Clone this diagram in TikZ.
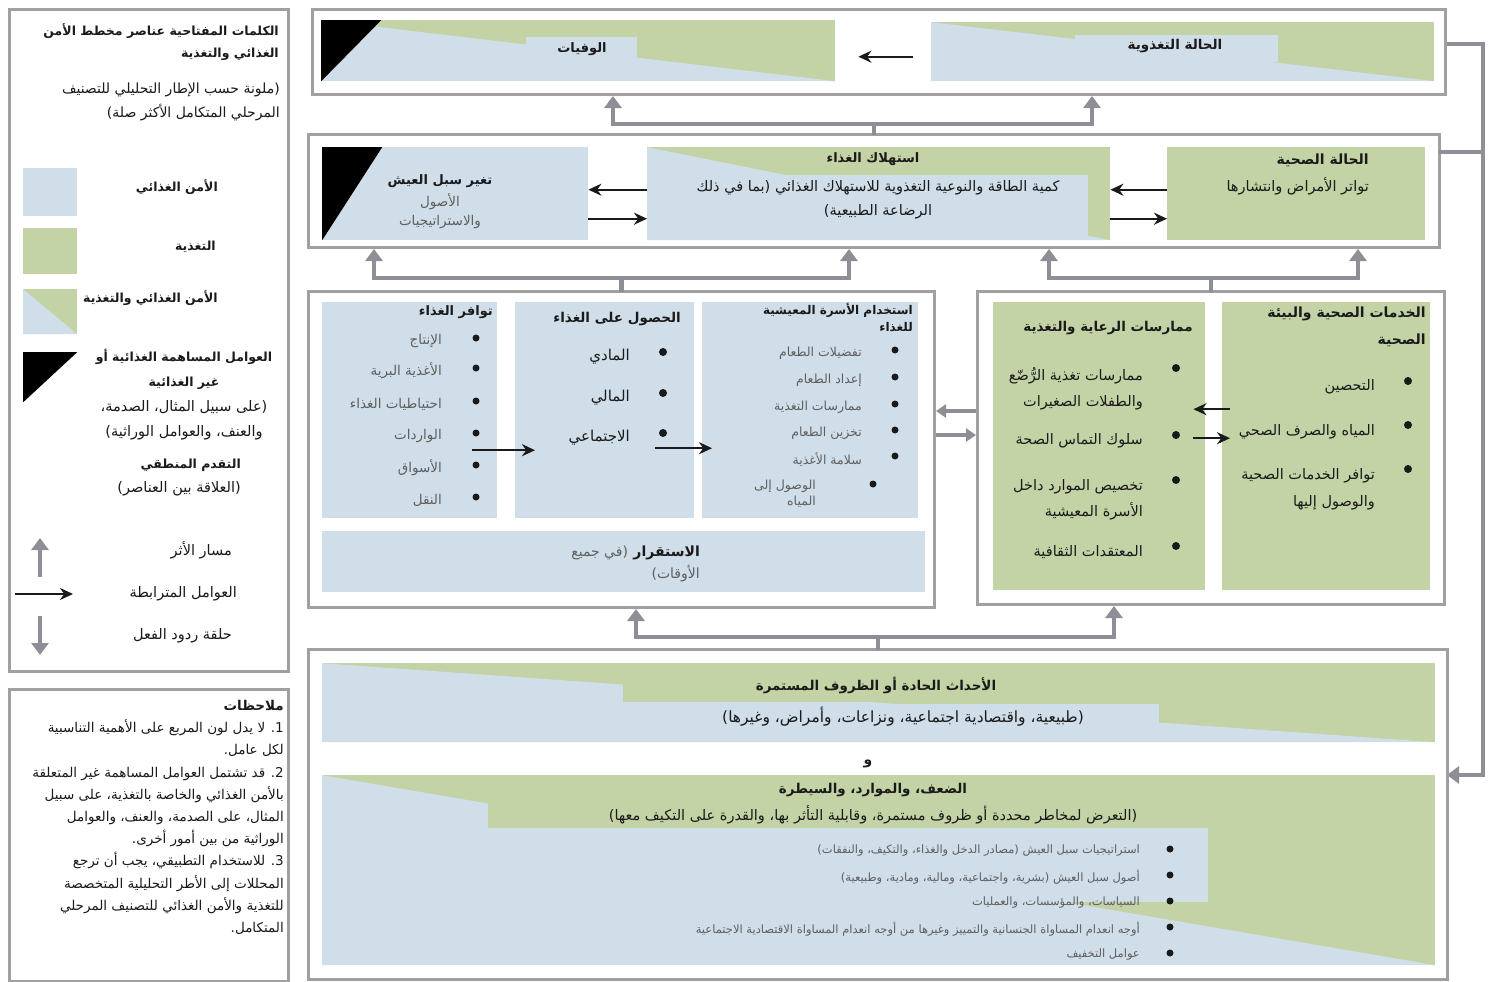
\documentclass[tikz,border=0pt]{standalone}
\usepackage{fontspec}
\usepackage{tikz}
\usetikzlibrary{arrows.meta}
\newfontfamily\arabicfont[Script=Arabic]{DejaVu Sans}
\TeXXeTstate=1
\newcommand{\ar}[1]{\beginR#1\endR}
\newcommand{\fhead}{\arabicfont\bfseries\fontsize{12.5}{22}\selectfont}
\newcommand{\fbody}{\arabicfont\mdseries\fontsize{14.5}{25}\selectfont}
\newcommand{\fnote}{\arabicfont\mdseries\fontsize{13.5}{22.2}\selectfont}
\newcommand{\fsmall}{\arabicfont\mdseries\fontsize{13}{17}\selectfont}
\newcommand{\ftiny}{\arabicfont\mdseries\fontsize{11.5}{15}\selectfont}

\definecolor{foodblue}{RGB}{207,222,233}
\definecolor{nutgreen}{RGB}{196,211,166}
\definecolor{panelgray}{RGB}{160,160,160}
\definecolor{arrowgray}{RGB}{142,142,150}
\definecolor{textgray}{RGB}{95,95,95}
\definecolor{inkblack}{RGB}{26,26,26}

\tikzset{
  panel/.style={draw=panelgray, line width=3pt, inner sep=0pt, anchor=north west},
  bluebox/.style={fill=foodblue, inner sep=0pt, anchor=north west},
  greenbox/.style={fill=nutgreen, inner sep=0pt, anchor=north west},
  splitbox/.style={greenbox, path picture={
    \fill[foodblue] (path picture bounding box.north west) -- (path picture bounding box.south east)
      -- (path picture bounding box.south west) -- cycle;}},
  shockcorner/.style={inner sep=0pt, anchor=north west, path picture={
    \fill[black] (path picture bounding box.north west) -- ++(#1,0)
      -- (path picture bounding box.south west) -- cycle;}},
  splitcorner/.style={greenbox, path picture={
    \fill[foodblue] (path picture bounding box.north west) -- (path picture bounding box.south east)
      -- (path picture bounding box.south west) -- cycle;
    \fill[black] (path picture bounding box.north west) -- ++(#1,0)
      -- (path picture bounding box.south west) -- cycle;}},
  headtxt/.style={font=\fhead, inner sep=0pt, text=inkblack},
  bodytxt/.style={font=\fbody, inner sep=0pt, text=inkblack},
  smalltxt/.style={font=\fsmall, inner sep=0pt, text=textgray},
  tinytxt/.style={font=\ftiny, inner sep=0pt, text=textgray},
  link/.style={-{Stealth[length=13pt,width=12pt]}, line width=2.2pt, draw=inkblack},
  impact/.style={-{Triangle[length=12pt,width=17pt]}, line width=4.5pt, draw=arrowgray},
  impactboth/.style={{Triangle[length=12pt,width=17pt]}-{Triangle[length=12pt,width=17pt]},
    line width=4.5pt, draw=arrowgray},
  impactsmall/.style={-{Triangle[length=10pt,width=13pt]}, line width=3.5pt, draw=arrowgray},
  joinbar/.style={line width=4.5pt, draw=arrowgray, line cap=rect},
}

\begin{document}
\begin{tikzpicture}[x=1pt,y=-1pt]
\useasboundingbox (0,0) rectangle (1492,982);
\fill[white] (0,0) rectangle (1492,982);

% Key
\node[panel, minimum width=279, minimum height=662] (keybox) at (8,8) {};
\node[headtxt, anchor=north east, align=right] (keytitle) at (279,23) {\ar{الكلمات المفتاحية عناصر مخطط الأمن}\\\ar{الغذائي والتغذية}};
\node[bodytxt, font=\arabicfont\fontsize{14}{24}\selectfont, anchor=north east, align=right] (keysub) at (280,83) {\ar{(ملونة حسب الإطار التحليلي للتصنيف}\\\ar{المرحلي المتكامل الأكثر صلة)}};

\node[bluebox, minimum width=54, minimum height=48] (keyfood) at (23,168) {};
\node[greenbox, minimum width=54, minimum height=46] (keynut) at (23,228) {};
\node[splitbox, minimum width=54, minimum height=45] (keyboth) at (23,289) {};
\node[shockcorner=54, minimum width=54, minimum height=50] (keyshock) at (23,352) {};

\node[headtxt, anchor=east] (keyfoodlbl) at (218,187) {\ar{الأمن الغذائي}};
\node[headtxt, anchor=east] (keynutlbl) at (216,247) {\ar{التغذية}};
\node[headtxt, anchor=east] (keybothlbl) at (218,298) {\ar{الأمن الغذائي والتغذية}};
\node[headtxt, font=\arabicfont\bfseries\fontsize{12.5}{25}\selectfont, anchor=north, align=center] (keyshocklbl) at (184,349) {\ar{العوامل المساهمة الغذائية أو}\\\ar{غير الغذائية}\\{\fbody\ar{(على سبيل المثال، الصدمة،}}\\{\fbody\ar{والعنف، والعوامل الوراثية)}}};
\node[headtxt, font=\arabicfont\bfseries\fontsize{12.5}{24}\selectfont, anchor=north east, align=right] (keylogic) at (241,459) {\ar{التقدم المنطقي}\\{\fbody\ar{(العلاقة بين العناصر)}}};

\node[bodytxt, anchor=east] (keyimpact) at (232,550) {\ar{مسار الأثر}};
\node[bodytxt, anchor=east] (keylink) at (237,594) {\ar{العوامل المترابطة}};
\node[bodytxt, anchor=east] (keyloop) at (232,636) {\ar{حلقة ردود الفعل}};
\coordinate (ku1) at (40,577); \coordinate (ku2) at (40,538);
\draw[impact] (ku1) -- (ku2);
\coordinate (kl1) at (15,594); \coordinate (kl2) at (73,594);
\draw[link] (kl1) -- (kl2);
\coordinate (kd1) at (40,616); \coordinate (kd2) at (40,655);
\draw[impact] (kd1) -- (kd2);

% Notes
\node[panel, minimum width=279, minimum height=292] (notebox) at (8,688) {};
\node[bodytxt, font=\fnote, anchor=north east, align=right] (notes) at (284,700) {%
{\bfseries\ar{ملاحظات}}\\
\ar{1. لا يدل لون المربع على الأهمية التناسبية}\\
\ar{لكل عامل.}\\
\ar{2. قد تشتمل العوامل المساهمة غير المتعلقة}\\
\ar{بالأمن الغذائي والخاصة بالتغذية، على سبيل}\\
\ar{المثال، على الصدمة، والعنف، والعوامل}\\
\ar{الوراثية من بين أمور أخرى.}\\
\ar{3. للاستخدام التطبيقي، يجب أن ترجع}\\
\ar{المحللات إلى الأطر التحليلية المتخصصة}\\
\ar{للتغذية والأمن الغذائي للتصنيف المرحلي}\\
\ar{المتكامل.}};

% Row 1: outcomes
\node[panel, minimum width=1133, minimum height=85] (row1) at (311,8) {};
\node[splitcorner=60, minimum width=514, minimum height=61] (mortal) at (321,20) {};
\fill[foodblue] (526,37) rectangle (637,70);
\node[headtxt, font=\arabicfont\bfseries\fontsize{13}{22}\selectfont] (mortallbl) at (582,49) {\ar{الوفيات}};
\node[splitbox, minimum width=503, minimum height=59] (nutstat) at (931,22) {};
\fill[foodblue] (1075,35) rectangle (1278,62);
\node[headtxt, font=\arabicfont\bfseries\fontsize{13.5}{22}\selectfont] (nutstatlbl) at (1175,46) {\ar{الحالة التغذوية}};
\draw[link, shorten <=18pt, shorten >=23pt] ([yshift=-5pt]nutstat.west) -- ([yshift=-5pt]nutstat.west -| mortal.east);

% Row 2
\node[panel, minimum width=1131, minimum height=113] (row2) at (307,133) {};
\node[bluebox, shockcorner=60, minimum width=266, minimum height=93] (live) at (322,147) {};
\node[headtxt, font=\arabicfont\bfseries\fontsize{13}{22}\selectfont] (livelbl) at (440,181) {\ar{تغير سبل العيش}};
\node[smalltxt, font=\arabicfont\fontsize{13.5}{19}\selectfont, align=center] (livesub) at (440,211) {\ar{الأصول}\\\ar{والاستراتيجيات}};

\node[splitbox, minimum width=463, minimum height=93] (cons) at (647,147) {};
\fill[foodblue] (647,175) rectangle (1088,240);
\node[headtxt, font=\arabicfont\bfseries\fontsize{13}{22}\selectfont] (conslbl) at (873,159) {\ar{استهلاك الغذاء}};
\node[bodytxt, font=\arabicfont\fontsize{14.5}{24}\selectfont, align=center] (constxt) at (878,200) {\ar{كمية الطاقة والنوعية التغذوية للاستهلاك الغذائي (بما في ذلك}\\\ar{الرضاعة الطبيعية)}};

\node[greenbox, minimum width=258, minimum height=93] (health) at (1167,147) {};
\node[headtxt, font=\arabicfont\bfseries\fontsize{14}{27}\selectfont, anchor=north east, align=right] (healthlbl) at (1369,154) {\ar{الحالة الصحية}\\{\fbody\ar{تواتر الأمراض وانتشارها}}};

\draw[link] ([yshift=4pt]cons.west) -- ([yshift=4pt]live.east);
\draw[link] ([yshift=-25pt]live.east) -- ([yshift=-25pt]cons.west);
\draw[link] ([yshift=4pt]health.west) -- ([yshift=4pt]cons.east);
\draw[link] ([yshift=-25pt]cons.east) -- ([yshift=-25pt]health.west);

% Row 2 to row 1
\coordinate (j1) at (613,124); \coordinate (j2) at (1092,124);
\draw[joinbar] (row2.north) -- (row2.north |- j1);
\draw[impactboth] (j1 |- row1.south) -- (j1) -- (j2) -- (j2 |- row1.south);

% Feedback loop
\coordinate (fb) at (1483,775);
\draw[joinbar] ([yshift=39pt]row2.east) -- ([yshift=39pt]row2.east -| fb);
\draw[impact] ([yshift=8pt]row1.east) -| (fb) -- (fb -| row1.east);

% Row 3 left: food security
\node[panel, minimum width=626, minimum height=316] (left3) at (307,290) {};
\node[bluebox, minimum width=175, minimum height=216] (avail) at (322,302) {};
\node[bluebox, minimum width=179, minimum height=216] (access) at (515,302) {};
\node[bluebox, minimum width=216, minimum height=216] (util) at (702,302) {};
\node[bluebox, minimum width=603, minimum height=61] (stab) at (322,531) {};

\node[headtxt, font=\arabicfont\bfseries\fontsize{13}{16}\selectfont, anchor=east] (availlbl) at (493,312) {\ar{توافر الغذاء}};
\foreach \y/\entry [count=\i] in {341/الإنتاج, 371/الأغذية البرية, 404/احتياطيات الغذاء, 436/الواردات, 468/الأسواق, 500/النقل} {
    \fill[inkblack] (476,\y-3) circle[radius=3.5pt];
    \node[smalltxt, font=\arabicfont\fontsize{13.5}{16}\selectfont, anchor=east] (avail-\i) at (442,\y) {\ar{\entry}};
}

\node[headtxt, font=\arabicfont\bfseries\fontsize{13.5}{16}\selectfont, anchor=east] (accesslbl) at (681,319) {\ar{الحصول على الغذاء}};
\foreach \y/\entry [count=\i] in {357/المادي, 398/المالي, 438/الاجتماعي} {
    \fill[inkblack] (663,\y-5) circle[radius=4pt];
    \node[bodytxt, font=\arabicfont\fontsize{15}{18}\selectfont, anchor=east] (access-\i) at (630,\y) {\ar{\entry}};
}

\node[headtxt, font=\arabicfont\bfseries\fontsize{12}{17}\selectfont, anchor=north east, align=right] (utillbl) at (913,303) {\ar{استخدام الأسرة المعيشية}\\\ar{للغذاء}};
\foreach \y/\entry [count=\i] in {353/تفضيلات الطعام, 380/إعداد الطعام, 407/ممارسات التغذية, 433/تخزين الطعام, 459/سلامة الأغذية} {
    \fill[inkblack] (895,\y-3) circle[radius=3.5pt];
    \node[smalltxt, font=\arabicfont\fontsize{12.5}{15}\selectfont, anchor=east] (util-\i) at (862,\y) {\ar{\entry}};
}
\fill[inkblack] (873,484) circle[radius=3.5pt];
\node[smalltxt, font=\arabicfont\fontsize{12.5}{16}\selectfont, anchor=north east, align=right] (util-6) at (816,480) {\ar{الوصول إلى}\\\ar{المياه}};

\node[headtxt, font=\arabicfont\bfseries\fontsize{14}{20}\selectfont, anchor=east] (stablbl) at (700,553) {\ar{الاستقرار}};
\node[smalltxt, font=\arabicfont\fontsize{14}{20}\selectfont, anchor=east] (stabsub) at ([xshift=-5pt]stablbl.west) {\ar{(في جميع}};
\node[smalltxt, font=\arabicfont\fontsize{14}{20}\selectfont, anchor=east] (stabsub2) at (700,574) {\ar{الأوقات)}};

\draw[link, shorten <=-25pt, shorten >=-20pt] ([yshift=-40pt]avail.east) -- ([yshift=-40pt]access.west);
\draw[link, shorten <=-39pt, shorten >=-10pt] ([yshift=-38pt]access.east) -- ([yshift=-38pt]util.west);

% Row 3 right: nutrition
\node[panel, minimum width=467, minimum height=313] (right3) at (976,290) {};
\node[greenbox, minimum width=212, minimum height=288] (care) at (993,302) {};
\node[greenbox, minimum width=208, minimum height=288] (serv) at (1222,302) {};

\node[headtxt, font=\arabicfont\bfseries\fontsize{13.5}{22}\selectfont, anchor=east] (carelbl) at (1193,328) {\ar{ممارسات الرعاية والتغذية}};
\node[bodytxt, font=\arabicfont\fontsize{14.5}{26}\selectfont, anchor=north east, align=right] (care-1) at (1143,367) {\ar{ممارسات تغذية الرُّضّع}\\\ar{والطفلات الصغيرات}};
\node[bodytxt, anchor=east] (care-2) at (1143,441) {\ar{سلوك التماس الصحة}};
\node[bodytxt, font=\arabicfont\fontsize{14.5}{26}\selectfont, anchor=north east, align=right] (care-3) at (1143,479) {\ar{تخصيص الموارد داخل}\\\ar{الأسرة المعيشية}};
\node[bodytxt, anchor=east] (care-4) at (1143,552) {\ar{المعتقدات الثقافية}};
\foreach \y in {368,435,480,546}
    \fill[inkblack] (1176,\y) circle[radius=4pt];

\node[headtxt, font=\arabicfont\bfseries\fontsize{14}{27}\selectfont, anchor=north east, align=right] (servlbl) at (1426,307) {\ar{الخدمات الصحية والبيئة}\\\ar{الصحية}};
\node[bodytxt, anchor=east] (serv-1) at (1375,387) {\ar{التحصين}};
\node[bodytxt, anchor=east] (serv-2) at (1375,432) {\ar{المياه والصرف الصحي}};
\node[bodytxt, font=\arabicfont\fontsize{14.5}{27}\selectfont, anchor=north east, align=right] (serv-3) at (1375,468) {\ar{توافر الخدمات الصحية}\\\ar{والوصول إليها}};
\foreach \y in {381,425,469}
    \fill[inkblack] (1408,\y) circle[radius=4pt];

\draw[link, shorten <=-8pt, shorten >=-12pt] ([yshift=37pt]serv.west) -- ([yshift=37pt]care.east);
\draw[link, shorten <=-12pt, shorten >=-8pt] ([yshift=8pt]care.east) -- ([yshift=8pt]serv.west);

% Between the two row 3 panels
\draw[impactsmall] ([yshift=37pt]right3.west) -- ([yshift=37pt]right3.west -| left3.east);
\draw[impactsmall] ([yshift=13pt]right3.west -| left3.east) -- ([yshift=13pt]right3.west);

% Row 3 to row 2
\coordinate (k1) at (374,278); \coordinate (k2) at (849,278);
\draw[joinbar] (left3.north) -- (left3.north |- k1);
\draw[impactboth] (k1 |- row2.south) -- (k1) -- (k2) -- (k2 |- row2.south);
\coordinate (k3) at (1049,278); \coordinate (k4) at (1358,278);
\draw[joinbar] (right3.north) -- (right3.north |- k3);
\draw[impactboth] (k3 |- row2.south) -- (k3) -- (k4) -- (k4 |- row2.south);

% Row 4: drivers
\node[panel, minimum width=1139, minimum height=330] (row4) at (307,648) {};
\node[splitbox, minimum width=1113, minimum height=79] (shock) at (322,663) {};
\fill[nutgreen] (623,663) rectangle (1435,702);
\fill[foodblue] (638,704) rectangle (1159,734);
\node[headtxt, font=\arabicfont\bfseries\fontsize{13.5}{22}\selectfont] (shocklbl) at (876,685) {\ar{الأحداث الحادة أو الظروف المستمرة}};
\node[bodytxt, font=\arabicfont\fontsize{15.5}{22}\selectfont] (shocksub) at (903,717) {\ar{(طبيعية، واقتصادية اجتماعية، ونزاعات، وأمراض، وغيرها)}};
\node[headtxt, font=\arabicfont\bfseries\fontsize{14}{22}\selectfont] (andlbl) at (868,764) {\ar{و}};

\node[splitbox, minimum width=1113, minimum height=190] (vuln) at (322,775) {};
\fill[nutgreen] (488,775) rectangle (1435,828);
\fill[foodblue] (488,828) rectangle (1208,902);
\node[headtxt, font=\arabicfont\bfseries\fontsize{13.5}{22}\selectfont] (vulnlbl) at (873,790) {\ar{الضعف، والموارد، والسيطرة}};
\node[bodytxt] (vulnsub) at (873,815) {\ar{(التعرض لمخاطر محددة أو ظروف مستمرة، وقابلية التأثر بها، والقدرة على التكيف معها)}};
\foreach \y/\entry [count=\i] in {851/استراتيجيات سبل العيش (مصادر الدخل والغذاء، والتكيف، والنفقات), 877/أصول سبل العيش (بشرية، واجتماعية، ومالية، ومادية، وطبيعية), 903/السياسات، والمؤسسات، والعمليات, 929/أوجه انعدام المساواة الجنسانية والتمييز وغيرها من أوجه انعدام المساواة الاقتصادية الاجتماعية, 955/عوامل التخفيف} {
    \fill[inkblack] (1170,\y-2) circle[radius=3.5pt];
    \node[tinytxt, anchor=east] (vuln-\i) at (1140,\y) {\ar{\entry}};
}

% Row 4 to row 3
\coordinate (m1) at (636,637); \coordinate (m2) at (1114,637);
\draw[joinbar] (row4.north) -- (row4.north |- m1);
\draw[impactboth] (m1 |- left3.south) -- (m1) -- (m2) -- (m2 |- right3.south);
\end{tikzpicture}
\end{document}
